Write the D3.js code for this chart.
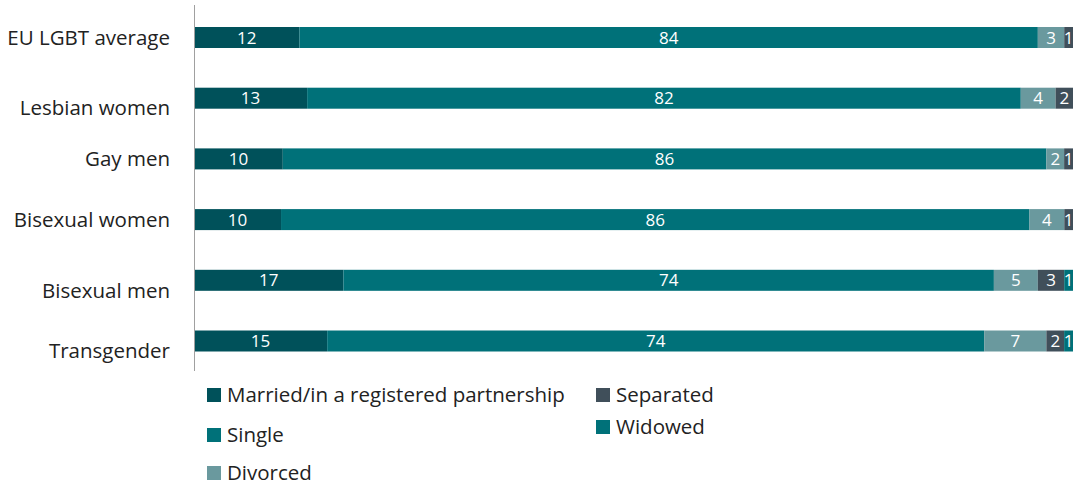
<!DOCTYPE html>
<html>
<head>
<meta charset="utf-8">
<script src="https://cdn.jsdelivr.net/npm/d3@7"></script>
<style>
  body { margin: 0; background: #fff; }
  text { font-family: "Open Sans", "Noto Sans", sans-serif; }
</style>
</head>
<body>
<div id="chart"></div>
<script>
// Data
const categories = ["EU LGBT average", "Lesbian women", "Gay men", "Bisexual women", "Bisexual men", "Transgender"];
const seriesNames = ["Married/in a registered partnership", "Single", "Divorced", "Separated", "Widowed"];
const married = [12, 13, 10, 10, 17, 15];
const single = [84, 82, 86, 86, 74, 74];
const divorced = [3, 4, 2, 4, 5, 7];
const separated = [1, 2, 1, 1, 3, 2];
const widowed = [0, 0, 0, 0, 1, 1];

const colors = ["#00515a", "#007179", "#6a999e", "#404f5a", "#007179"];
// small vertical nudge of some category labels, as in the original
const labelShift = [0, 9, 0, 0, 10, 10];

const width = 1075, height = 489;

const svg = d3.select("#chart").append("svg")
    .attr("width", width)
    .attr("height", height);

const allSeries = [married, single, divorced, separated, widowed];

// each row is spread over the full width (rows are rescaled to 100%)
const rows = categories.map((c, i) => {
    const vals = allSeries.map(s => s[i]);
    const total = d3.sum(vals);
    let acc = 0;
    return vals.map((v, k) => {
        const seg = { cat: c, k: k, value: v, x0: acc / total * 100, x1: (acc + v) / total * 100 };
        acc += v;
        return seg;
    });
});

const x = d3.scaleLinear().domain([0, 100]).range([194, 1073]);
const y = d3.scalePoint().domain(categories).range([37.5, 341]);
const barH = 21;

// bars
const g = svg.append("g");
rows.forEach(row => {
    const segs = row.filter(d => d.value > 0);
    g.selectAll(null)
        .data(segs)
        .enter()
        .append("rect")
        .attr("x", d => x(d.x0))
        .attr("y", d => y(d.cat) - barH / 2)
        .attr("width", d => x(d.x1) - x(d.x0))
        .attr("height", barH)
        .attr("fill", d => colors[d.k]);

    g.selectAll(null)
        .data(segs)
        .enter()
        .append("text")
        .attr("x", d => (x(d.x0) + x(d.x1)) / 2)
        .attr("y", d => y(d.cat))
        .attr("dy", "0.36em")
        .attr("text-anchor", "middle")
        .attr("fill", "#fff")
        .style("font-size", "17px")
        .text(d => d.value);
});

// vertical axis line
svg.append("line")
    .attr("x1", 194.5).attr("x2", 194.5)
    .attr("y1", 5).attr("y2", 371)
    .attr("stroke", "#a0a0a0")
    .attr("stroke-width", 1);

// category labels
svg.selectAll(".cat")
    .data(categories)
    .enter()
    .append("text")
    .attr("class", "cat")
    .attr("x", 170)
    .attr("y", (d, i) => y(d) + labelShift[i])
    .attr("dy", "0.36em")
    .attr("text-anchor", "end")
    .attr("fill", "#222")
    .style("font-size", "20.5px")
    .text(d => d);

// legend
const legendPos = [
    { x: 207, y: 395 },
    { x: 207, y: 435 },
    { x: 207, y: 473 },
    { x: 596, y: 395 },
    { x: 596, y: 427 }
];
const legend = svg.selectAll(".legend")
    .data(seriesNames)
    .enter()
    .append("g")
    .attr("class", "legend")
    .attr("transform", (d, i) => `translate(${legendPos[i].x},${legendPos[i].y})`);

legend.append("rect")
    .attr("x", 0)
    .attr("y", -7)
    .attr("width", 14)
    .attr("height", 14)
    .attr("fill", (d, i) => colors[i]);

legend.append("text")
    .attr("x", 20)
    .attr("y", 0)
    .attr("dy", "0.36em")
    .attr("fill", "#222")
    .style("font-size", "20.5px")
    .text(d => d);
</script>
</body>
</html>
